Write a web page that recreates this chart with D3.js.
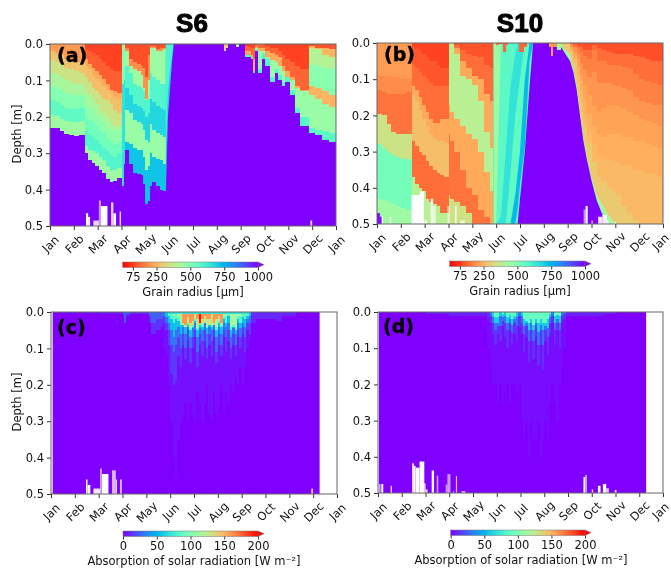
<!DOCTYPE html>
<html>
<head>
<meta charset="utf-8">
<script src="https://cdn.jsdelivr.net/npm/d3@7"></script>
<style>
    html, body { margin: 0; padding: 0; background: #fff; }
    svg { display: block; filter: blur(0.4px); }
    text { font-family: "DejaVu Sans", sans-serif; fill: #111; }
</style>
</head>
<body>
<svg id="canvas" width="671" height="569"></svg>
<script>
const monthLabels = ["Jan", "Feb", "Mar", "Apr", "May", "Jun", "Jul", "Aug", "Sep", "Oct", "Nov", "Dec", "Jan"];
const depthTicks = [0, 0.1, 0.2, 0.3, 0.4, 0.5];
const grainTicks = [75, 250, 500, 750, 1000];
const solarTicks = [0, 50, 100, 150, 200];

// Each block: months along x, then [value, lower edge depth per month], deepest layer first
const s6Grain = [
    { months: [0, 0.2, 0.4, 0.6, 0.8, 1, 1.2, 1.46], layers: [
        [440, [0.23, 0.232, 0.24, 0.248, 0.25, 0.252, 0.25, 0.25]],
        [560, [0.195, 0.198, 0.205, 0.212, 0.215, 0.215, 0.212, 0.21]],
        [490, [0.155, 0.16, 0.168, 0.175, 0.178, 0.178, 0.175, 0.175]],
        [420, [0.115, 0.118, 0.125, 0.135, 0.14, 0.14, 0.14, 0.14]],
        [350, [0.08, 0.082, 0.09, 0.1, 0.105, 0.11, 0.11, 0.11]],
        [280, [0.045, 0.05, 0.055, 0.065, 0.07, 0.075, 0.08, 0.08]],
        [210, [0.02, 0.025, 0.03, 0.04, 0.045, 0.05, 0.05, 0.055]],
    ] },
    { months: [1.46, 1.6, 1.75, 1.9, 2.05, 2.2, 2.35, 2.5, 2.65, 2.8, 3], layers: [
        [440, [0.3, 0.32, 0.328, 0.335, 0.345, 0.355, 0.37, 0.38, 0.375, 0.368, 0.39]],
        [590, [0.28, 0.29, 0.295, 0.3, 0.31, 0.32, 0.335, 0.345, 0.345, 0.34, 0.345]],
        [530, [0.24, 0.25, 0.255, 0.265, 0.275, 0.285, 0.295, 0.305, 0.31, 0.3, 0.31]],
        [470, [0.2, 0.21, 0.215, 0.225, 0.235, 0.245, 0.26, 0.27, 0.275, 0.27, 0.275]],
        [420, [0.165, 0.175, 0.18, 0.195, 0.205, 0.215, 0.23, 0.235, 0.24, 0.235, 0.24]],
        [350, [0.13, 0.14, 0.15, 0.165, 0.18, 0.19, 0.2, 0.215, 0.225, 0.225, 0.23]],
        [270, [0.09, 0.105, 0.12, 0.13, 0.14, 0.15, 0.155, 0.165, 0.18, 0.19, 0.19]],
        [230, [0.06, 0.07, 0.085, 0.095, 0.105, 0.115, 0.125, 0.135, 0.145, 0.15, 0.15]],
        [120, [0.04, 0.055, 0.065, 0.075, 0.085, 0.095, 0.11, 0.125, 0.13, 0.135, 0.13]],
        [85, [0.015, 0.02, 0.025, 0.03, 0.04, 0.05, 0.06, 0.07, 0.075, 0.075, 0.07]],
    ] },
    { months: [3, 3.1, 3.15], layers: [
        [650, [0.39, 0.33, 0.3]],
        [480, [0.11, 0.1, 0]],
    ] },
    { months: [3.15, 3.3, 3.5, 3.65, 3.8, 3.9, 4, 4.1, 4.2, 4.3, 4.45, 4.6, 4.75, 4.86], layers: [
        [720, [0.29, 0.33, 0.355, 0.358, 0.36, 0.385, 0.44, 0.43, 0.39, 0.38, 0.39, 0.4, 0.405, 0.415]],
        [450, [0.27, 0.275, 0.285, 0.29, 0.29, 0.31, 0.345, 0.335, 0.3, 0.31, 0.315, 0.32, 0.33, 0.34]],
        [680, [0.18, 0.19, 0.21, 0.215, 0.22, 0.235, 0.265, 0.27, 0.22, 0.235, 0.245, 0.25, 0.255, 0.26]],
        [590, [0.12, 0.14, 0.165, 0.17, 0.175, 0.185, 0.2, 0.19, 0.15, 0.16, 0.17, 0.175, 0.18, 0.19]],
        [440, [0.06, 0.08, 0.11, 0.115, 0.12, 0.13, 0.155, 0.15, 0.08, 0.09, 0.1, 0.11, 0.11, 0.12]],
        [190, [0.02, 0.06, 0.07, 0.075, 0.085, 0.12, 0.15, 0.1, 0.01, 0.01, 0.02, 0.02, 0.015, 0.01]],
        [100, [0.01, 0.04, 0.05, 0.055, 0.06, 0.065, 0.09, 0.03, 0.005, 0.005, 0.015, 0.012, 0.01, 0.005]],
    ] },
    { months: [4.86, 4.95, 5.05, 5.12, 5.18], layers: [
        [700, [0.41, 0.2, 0.11, 0.05, 0.01]],
        [600, [0.3, 0.13, 0.07, 0.03, 0]],
    ] },
    { months: [7.3, 7.38, 7.45], layers: [[300, [0.02, 0.01, 0]]] },
    { months: [7.8, 7.95], layers: [[420, [0.008, 0]]] },
    { months: [8.18, 8.3, 8.45, 8.53, 8.62, 8.74, 8.88, 9.02, 9.23, 9.44, 9.58, 9.72, 9.86, 10.07, 10.3, 10.49, 10.85], layers: [
        [580, [0.035, 0.035, 0.04, 0.08, 0.02, 0.08, 0.04, 0.06, 0.105, 0.08, 0.1, 0.115, 0.105, 0.14, 0.19, 0.225, 0.24]],
        [450, [0.03, 0.03, 0.035, 0.075, 0.015, 0.07, 0.025, 0.04, 0.09, 0.07, 0.085, 0.105, 0.09, 0.125, 0.175, 0.2, 0.225]],
        [230, [0.03, 0.03, 0.035, 0.075, 0.01, 0.02, 0.02, 0.035, 0.045, 0.05, 0.06, 0.075, 0.09, 0.1, 0.12, 0.13, 0.135]],
        [130, [0.02, 0.02, 0.03, 0.04, 0.005, 0.01, 0.01, 0.02, 0.025, 0.03, 0.035, 0.06, 0.075, 0.09, 0.115, 0.125, 0.13]],
        [85, [0.005, 0.008, 0.01, 0.01, 0, 0, 0, 0.005, 0.01, 0.01, 0.02, 0.03, 0.04, 0.05, 0.06, 0.07, 0.08]],
    ] },
    { months: [10.85, 11.1, 11.4, 11.7, 12], layers: [
        [570, [0.245, 0.25, 0.265, 0.268, 0.272]],
        [450, [0.23, 0.235, 0.24, 0.245, 0.25]],
        [250, [0.14, 0.15, 0.165, 0.172, 0.178]],
        [480, [0.115, 0.12, 0.13, 0.14, 0.145]],
        [400, [0.055, 0.06, 0.065, 0.07, 0.075]],
        [250, [0.01, 0.015, 0.03, 0.035, 0.04]],
        [110, [0.005, 0.01, 0.012, 0.015, 0.02]],
    ] },
];

const s10Grain = [
    { months: [0, 0.2, 0.4, 0.6, 0.8, 1, 1.2, 1.46], layers: [
        [440, [0.5, 0.5, 0.5, 0.5, 0.5, 0.5, 0.5, 0.5]],
        [520, [0.43, 0.435, 0.44, 0.445, 0.45, 0.455, 0.46, 0.465]],
        [350, [0.28, 0.29, 0.3, 0.31, 0.315, 0.32, 0.32, 0.32]],
        [150, [0.195, 0.2, 0.225, 0.245, 0.25, 0.25, 0.25, 0.26]],
        [185, [0.13, 0.135, 0.14, 0.14, 0.14, 0.14, 0.135, 0.13]],
        [210, [0.09, 0.09, 0.09, 0.095, 0.095, 0.1, 0.1, 0.1]],
    ] },
    { months: [1.46, 1.6, 1.75, 1.9, 2.05, 2.2, 2.35, 2.5, 2.65, 2.8, 3], layers: [
        [390, [0.5, 0.5, 0.5, 0.5, 0.5, 0.5, 0.5, 0.5, 0.5, 0.5, 0.5]],
        [140, [0.37, 0.39, 0.4, 0.41, 0.43, 0.44, 0.445, 0.45, 0.47, 0.47, 0.49]],
        [270, [0.27, 0.285, 0.3, 0.31, 0.325, 0.34, 0.35, 0.36, 0.365, 0.37, 0.375]],
        [230, [0.145, 0.16, 0.185, 0.21, 0.23, 0.25, 0.265, 0.27, 0.27, 0.275, 0.275]],
        [140, [0.12, 0.13, 0.15, 0.17, 0.19, 0.21, 0.22, 0.22, 0.21, 0.21, 0.21]],
        [110, [0.06, 0.07, 0.08, 0.09, 0.1, 0.11, 0.12, 0.12, 0.12, 0.12, 0.12]],
        [85, [0.01, 0.015, 0.02, 0.03, 0.04, 0.05, 0.05, 0.06, 0.07, 0.07, 0.07]],
    ] },
    { months: [3, 3.05, 3.25, 3.5, 3.75, 4, 4.25, 4.5, 4.75, 4.95], layers: [
        [350, [0.5, 0.5, 0.5, 0.5, 0.5, 0.5, 0.5, 0.5, 0.5, 0.5]],
        [150, [0.42, 0.43, 0.44, 0.45, 0.47, 0.5, 0.5, 0.5, 0.5, 0.5]],
        [230, [0.25, 0.27, 0.3, 0.35, 0.4, 0.42, 0.46, 0.48, 0.5, 0.5]],
        [390, [0.17, 0.19, 0.21, 0.23, 0.25, 0.265, 0.3, 0.355, 0.41, 0.45]],
        [230, [0, 0, 0.03, 0.09, 0.1, 0.115, 0.16, 0.245, 0.29, 0.32]],
        [140, [0, 0, 0.015, 0.05, 0.07, 0.09, 0.1, 0.14, 0.16, 0.18]],
        [105, [0, 0, 0.005, 0.02, 0.03, 0.035, 0.04, 0.06, 0.07, 0.085]],
    ] },
    { months: [4.9, 5, 5.2, 5.4, 5.6, 5.8, 5.9, 6, 6.2, 6.4, 6.55], layers: [
        [560, [0.5, 0.5, 0.5, 0.5, 0.5, 0.5, 0.5, 0.43, 0.3, 0.12, 0]],
        [740, [0.5, 0.5, 0.5, 0.5, 0.5, 0.5, 0.46, 0.39, 0.29, 0.05, 0]],
        [560, [0.5, 0.5, 0.5, 0.5, 0.5, 0.42, 0.36, 0.3, 0.1, 0, 0]],
        [650, [0.5, 0.5, 0.5, 0.5, 0.36, 0.2, 0.15, 0.1, 0, 0, 0]],
        [570, [0.5, 0.5, 0.48, 0.3, 0.12, 0.03, 0, 0, 0, 0, 0]],
        [440, [0.5, 0.5, 0, 0, 0, 0, 0, 0, 0, 0, 0]],
    ] },
    { months: [5, 5.1, 5.3, 5.4, 5.5, 5.95, 6.15, 6.3], layers: [
        [130, [0.005, 0.003, 0.025, 0.005, 0, 0.025, 0.01, 0]],
    ] },
    { months: [7.23, 7.32, 7.4, 7.54, 7.7], layers: [
        [430, [0.005, 0.02, 0.01, 0.02, 0]],
        [200, [0.01, 0.035, 0.01, 0, 0]],
    ] },
    { months: [7.71, 7.9, 8.1, 8.24, 8.38, 8.52, 8.66, 8.8, 9, 9.22, 9.4, 9.66, 10, 10.5, 11, 11.5, 12], layers: [
        [430, [0.01, 0.03, 0.05, 0.08, 0.13, 0.2, 0.27, 0.32, 0.38, 0.435, 0.465, 0.5, 0.5, 0.5, 0.5, 0.5, 0.5]],
        [290, [0, 0.02, 0.03, 0.07, 0.12, 0.19, 0.26, 0.31, 0.37, 0.42, 0.44, 0.47, 0.5, 0.5, 0.5, 0.5, 0.5]],
    ] },
    { months: [8.1, 8.24, 8.38, 8.52, 8.66, 8.8, 9, 9.22, 9.4, 9.66, 9.85, 10, 10.25, 10.5, 10.75, 11, 11.25, 11.5, 11.75, 12], layers: [
        [260, [0.025, 0.055, 0.105, 0.165, 0.225, 0.275, 0.33, 0.37, 0.385, 0.4, 0.41, 0.42, 0.45, 0.47, 0.49, 0.5, 0.5, 0.5, 0.5, 0.5]],
        [240, [0.02, 0.045, 0.085, 0.135, 0.195, 0.245, 0.28, 0.31, 0.32, 0.32, 0.325, 0.33, 0.34, 0.34, 0.35, 0.35, 0.36, 0.36, 0.37, 0.37]],
        [220, [0.015, 0.035, 0.065, 0.105, 0.155, 0.195, 0.23, 0.25, 0.26, 0.25, 0.25, 0.25, 0.26, 0.26, 0.27, 0.27, 0.28, 0.285, 0.29, 0.29]],
        [200, [0.01, 0.025, 0.045, 0.085, 0.115, 0.145, 0.17, 0.19, 0.18, 0.17, 0.17, 0.175, 0.18, 0.19, 0.2, 0.21, 0.215, 0.22, 0.23, 0.23]],
        [170, [0.005, 0.015, 0.03, 0.055, 0.075, 0.095, 0.08, 0.11, 0.11, 0.11, 0.115, 0.12, 0.125, 0.13, 0.15, 0.16, 0.165, 0.17, 0.17, 0.17]],
        [140, [0.003, 0.008, 0.015, 0.025, 0.035, 0.045, 0.02, 0.05, 0.05, 0.06, 0.06, 0.06, 0.065, 0.07, 0.085, 0.1, 0.105, 0.11, 0.115, 0.115]],
        [100, [0, 0.003, 0.008, 0.012, 0.018, 0.02, 0.005, 0.015, 0.02, 0.025, 0.028, 0.03, 0.03, 0.03, 0.035, 0.04, 0.045, 0.05, 0.05, 0.05]],
    ] },
];
// Blocks whose edges run as straight slants rather than stairs
const s6SlantBlocks = [4];
const s10SlantBlocks = [3, 6];

const s6Solar = [
    { months: [0.1, 1, 2, 3], layers: [[6, [0.004, 0.004, 0.005, 0]]] },
    { months: [3, 3.05, 3.15, 3.3, 3.6, 3.9, 4.1, 4.2, 4.4, 4.6, 4.7], layers: [
        [12, [0.01, 0.03, 0.01, 0.005, 0.005, 0.005, 0.03, 0.06, 0.05, 0.04, 0.02]],
        [25, [0.005, 0.03, 0.005, 0, 0, 0, 0.01, 0.03, 0.02, 0.02, 0.01]],
    ] },
    { months: [4.7, 4.8, 4.9, 5, 5.1, 5.2, 5.3, 5.4, 5.5, 5.6, 5.7, 5.8, 5.9, 6, 6.1, 6.2, 6.3, 6.4, 6.5, 6.6, 6.7, 6.8, 6.9, 7, 7.1, 7.2, 7.3, 7.4, 7.5, 7.6, 7.7, 7.8, 7.9, 8, 8.1, 8.2, 8.3, 8.4], layers: [
        [4, [0.1, 0.12, 0.2, 0.3, 0.4, 0.45, 0.35, 0.3, 0.28, 0.25, 0.3, 0.25, 0.28, 0.3, 0.22, 0.25, 0.3, 0.25, 0.2, 0.28, 0.3, 0.22, 0.28, 0.25, 0.2, 0.28, 0.22, 0.25, 0.2, 0.22, 0.18, 0.2, 0.15, 0.2, 0.15, 0.1, 0.08, 0.05]],
        [14, [0.03, 0.05, 0.09, 0.17, 0.2, 0.19, 0.12, 0.15, 0.09, 0.13, 0.08, 0.14, 0.1, 0.07, 0.15, 0.09, 0.12, 0.08, 0.13, 0.09, 0.12, 0.07, 0.14, 0.09, 0.12, 0.07, 0.11, 0.08, 0.13, 0.09, 0.12, 0.07, 0.1, 0.06, 0.11, 0.05, 0.06, 0.03]],
        [30, [0.01, 0.03, 0.05, 0.09, 0.11, 0.09, 0.07, 0.1, 0.06, 0.1, 0.05, 0.1, 0.07, 0.05, 0.11, 0.06, 0.08, 0.05, 0.1, 0.06, 0.08, 0.05, 0.11, 0.06, 0.09, 0.05, 0.07, 0.05, 0.1, 0.06, 0.09, 0.05, 0.07, 0.04, 0.07, 0.03, 0.03, 0.01]],
        [55, [0, 0.015, 0.03, 0.05, 0.07, 0.05, 0.04, 0.06, 0.04, 0.06, 0.04, 0.07, 0.045, 0.03, 0.07, 0.045, 0.05, 0.03, 0.06, 0.04, 0.05, 0.03, 0.07, 0.04, 0.06, 0.03, 0.04, 0.03, 0.07, 0.045, 0.06, 0.03, 0.045, 0.03, 0.04, 0.02, 0.01, 0]],
        [85, [0, 0, 0.01, 0.02, 0.03, 0.02, 0.025, 0.035, 0.03, 0.04, 0.035, 0.05, 0.04, 0.025, 0.05, 0.035, 0.04, 0.025, 0.045, 0.03, 0.04, 0.025, 0.05, 0.03, 0.04, 0.02, 0.03, 0.01, 0.05, 0.04, 0.05, 0.02, 0.03, 0.015, 0.02, 0.01, 0, 0]],
        [115, [0, 0, 0, 0.005, 0.01, 0.005, 0.015, 0.03, 0.025, 0.035, 0.03, 0.045, 0.035, 0.02, 0.045, 0.03, 0.035, 0.02, 0.04, 0.025, 0.035, 0.02, 0.04, 0.025, 0.035, 0.015, 0.01, 0, 0.04, 0.035, 0.04, 0.01, 0.01, 0, 0, 0, 0, 0]],
    ] },
    { months: [5.4, 5.5, 5.6, 5.7, 5.8, 5.9, 6, 6.1, 6.2, 6.3, 6.4, 6.5, 6.6, 6.7, 6.8, 6.9, 7, 7.1, 7.2], layers: [
        [130, [0.01, 0.035, 0.04, 0.03, 0.04, 0.035, 0.015, 0.035, 0.03, 0.035, 0.03, 0.03, 0.035, 0.03, 0.035, 0.025, 0.02, 0.035, 0]],
        [160, [0, 0.03, 0.035, 0.015, 0.03, 0.025, 0, 0.02, 0.03, 0.02, 0.01, 0.02, 0.02, 0, 0.03, 0.02, 0.01, 0.03, 0]],
        [195, [0, 0, 0, 0, 0, 0, 0, 0, 0.03, 0, 0, 0, 0, 0, 0, 0, 0, 0, 0]],
    ] },
    { months: [4.9, 8.3], layers: [[70, [0.006, 0]]] },
    { months: [8.4, 8.6, 8.8, 9, 9.4, 9.7, 10, 10.3], layers: [
        [10, [0.03, 0.02, 0.02, 0.02, 0.025, 0.01, 0.01, 0]],
    ] },
];

const s10Solar = [
    { months: [2, 3, 3.5, 4, 4.3, 4.6], layers: [[8, [0.005, 0.01, 0.01, 0.01, 0.01, 0.01]]] },
    { months: [4.6, 4.7, 4.8, 4.9, 5, 5.1, 5.2, 5.3, 5.4, 5.5, 5.6, 5.7, 5.8, 5.9, 6, 6.1, 6.2, 6.3, 6.4, 6.5, 6.6, 6.7, 6.8, 6.9, 7, 7.1, 7.2, 7.3, 7.4, 7.5, 7.6, 7.7, 7.8, 7.9], layers: [
        [3, [0.1, 0.15, 0.2, 0.2, 0.25, 0.2, 0.25, 0.22, 0.2, 0.25, 0.2, 0.2, 0.22, 0.2, 0.3, 0.35, 0.3, 0.4, 0.3, 0.35, 0.35, 0.3, 0.4, 0.35, 0.3, 0.35, 0.25, 0.2, 0.25, 0.3, 0.2, 0.15, 0.1, 0.05]],
        [12, [0.02, 0.03, 0.06, 0.09, 0.06, 0.08, 0.04, 0.07, 0.1, 0.05, 0.09, 0.06, 0.08, 0.04, 0.06, 0.11, 0.07, 0.14, 0.08, 0.13, 0.07, 0.15, 0.09, 0.16, 0.08, 0.12, 0.06, 0.03, 0.09, 0.05, 0.1, 0.03, 0.02, 0.01]],
        [30, [0, 0.01, 0.03, 0.05, 0.04, 0.04, 0.025, 0.03, 0.05, 0.03, 0.055, 0.03, 0.04, 0.01, 0.03, 0.06, 0.04, 0.08, 0.05, 0.08, 0.04, 0.09, 0.05, 0.09, 0.05, 0.07, 0.03, 0.01, 0.05, 0.03, 0.05, 0.01, 0.005, 0]],
        [60, [0, 0, 0.015, 0.03, 0.03, 0.01, 0.015, 0.01, 0.03, 0.02, 0.035, 0.02, 0.015, 0, 0.01, 0.04, 0.03, 0.05, 0.03, 0.05, 0.03, 0.055, 0.035, 0.05, 0.04, 0.045, 0.015, 0, 0.03, 0.02, 0.03, 0, 0, 0]],
        [90, [0, 0, 0, 0.015, 0.015, 0, 0.005, 0, 0.015, 0.008, 0.02, 0.01, 0, 0, 0, 0.02, 0.025, 0.03, 0.02, 0.035, 0.02, 0.03, 0.02, 0.03, 0.03, 0.02, 0.005, 0, 0.01, 0.008, 0.012, 0, 0, 0]],
    ] },
    { months: [7.9, 8.2, 8.6, 9, 9.5, 10], layers: [[8, [0.01, 0.01, 0.012, 0.01, 0.005, 0]]] },
];

// Missing data at the bottom of each panel: start month, end month, top depth, whiteness
const s6Gaps = [[1.51, 1.6, 0.465, 1], [1.6, 1.68, 0.475, 1], [1.82, 2.05, 0.485, 0.85], [2.05, 2.14, 0.43, 0.6], [2.14, 2.41, 0.445, 1], [2.56, 2.66, 0.435, 0.8], [2.66, 2.77, 0.465, 1], [2.92, 2.98, 0.46, 0.8], [10.92, 11, 0.485, 0.8]];
const s10Gaps = [[0.2, 0.25, 0.48, 1], [0.53, 0.6, 0.48, 0.7], [1.45, 1.8, 0.42, 1], [1.8, 1.97, 0.41, 1], [2, 2.1, 0.49, 1], [2.25, 2.36, 0.43, 0.8], [2.36, 2.47, 0.45, 0.6], [2.95, 3.06, 0.45, 0.5], [3.27, 3.34, 0.45, 0.8], [3.5, 3.68, 0.49, 0.7], [8.67, 8.75, 0.46, 0.6], [8.75, 8.84, 0.45, 1], [9, 9.05, 0.49, 0.8], [9.28, 9.45, 0.48, 0.9], [9.45, 9.65, 0.475, 0.9], [9.65, 9.72, 0.49, 0.7], [9.95, 10.03, 0.495, 1]];
const s6SolarGaps = [[1.47, 1.53, 0.46, 1], [1.53, 1.65, 0.475, 1], [1.78, 2.06, 0.485, 0.9], [2.06, 2.13, 0.43, 0.7], [2.14, 2.41, 0.445, 1], [2.56, 2.72, 0.435, 0.7], [2.72, 2.76, 0.46, 1], [2.9, 2.97, 0.46, 0.8], [10.92, 10.99, 0.485, 0.8]];
const s10SolarGaps = [[0.04, 0.11, 0.475, 0.6], [0.14, 0.22, 0.475, 1], [0.53, 0.59, 0.48, 0.8], [1.44, 1.51, 0.418, 1], [1.51, 1.58, 0.425, 1], [1.58, 1.75, 0.43, 1], [1.75, 1.95, 0.413, 1], [1.95, 2, 0.473, 1], [2, 2.09, 0.49, 0.8], [2.26, 2.36, 0.438, 1], [2.47, 2.54, 0.452, 0.6], [2.85, 2.92, 0.477, 0.6], [2.92, 3.05, 0.448, 0.6], [3.15, 3.2, 0.495, 0.6], [3.28, 3.33, 0.453, 0.7], [3.52, 3.68, 0.495, 0.8], [8.65, 8.72, 0.456, 1], [8.72, 8.8, 0.45, 0.6], [9, 9.06, 0.49, 0.8], [9.26, 9.37, 0.48, 1], [9.47, 9.61, 0.475, 1], [9.61, 9.72, 0.487, 0.8], [9.97, 10.04, 0.492, 1]];
// Coarse-snow corner at the bottom left of S10: start month, end month, top depth
const s10Patches = [[0, 0.12, 0.47], [0.12, 0.2, 0.48]];

const svg = d3.select("#canvas");

// matplotlib "rainbow" colormap
function rainbow(t) {
    const r = Math.abs(2 * t - 0.5);
    const g = Math.sin(Math.PI * t);
    const b = Math.cos((Math.PI * t) / 2);
    return d3.rgb(Math.min(r, 1) * 255, g * 255, b * 255).formatHex();
}
const grainColor = (v) => rainbow(1 - Math.min(v, 1000) / 1000);
const solarColor = (v) => rainbow(Math.min(v, 200) / 200);

function drawPanel(p) {
    const x = d3.scaleLinear().domain([0, 12]).range([p.left, p.right]);
    const y = d3.scaleLinear().domain([0, 0.5]).range([p.top, p.bottom]);
    const g = svg.append("g");

    g.append("rect")
        .attr("x", x(p.dataRange[0]))
        .attr("y", y(0))
        .attr("width", x(p.dataRange[1]) - x(p.dataRange[0]))
        .attr("height", y(0.5) - y(0))
        .attr("fill", p.color(p.baseValue));

    const area = d3
        .area()
        .x((d) => x(d[0]))
        .y0(y(0))
        .y1((d) => y(d[1]));

    p.blocks.forEach((block, b) => {
        const slant = (p.slantBlocks || []).includes(b);
        area.curve(slant ? d3.curveLinear : d3.curveStepAfter);
        block.layers.forEach(([value, depths]) => {
            g.append("path")
                .attr("d", area(block.months.map((m, i) => [m, depths[i]])))
                .attr("fill", p.color(value))
                .attr("shape-rendering", slant ? "auto" : "crispEdges");
        });
    });

    (p.patches || []).forEach((d) => {
        g.append("rect")
            .attr("x", x(d[0]))
            .attr("y", y(d[2]))
            .attr("width", x(d[1]) - x(d[0]))
            .attr("height", y(0.5) - y(d[2]))
            .attr("fill", p.color(p.baseValue));
    });

    g.selectAll(".gap")
        .data(p.gaps)
        .enter()
        .append("rect")
        .attr("class", "gap")
        .attr("x", (d) => x(d[0]))
        .attr("y", (d) => y(d[2]))
        .attr("width", (d) => x(d[1]) - x(d[0]))
        .attr("height", (d) => y(0.5) - y(d[2]))
        .attr("fill", "#fff")
        .attr("fill-opacity", (d) => d[3]);

    // axes
    const xAxis = d3
        .axisBottom(x)
        .tickValues(d3.range(monthLabels.length))
        .tickFormat((i) => monthLabels[i])
        .tickSize(4);
    const gx = g.append("g").attr("transform", `translate(0,${p.bottom})`).call(xAxis);
    gx.selectAll("text")
        .attr("y", 0)
        .attr("dy", "0.35em")
        .attr("text-anchor", "middle")
        // last label sits against the window edge on the right-hand panels
        .attr("transform", (i) => `translate(${i === 12 && p.right > 600 ? -3 : 0},18) rotate(-45)`);

    const yAxis = d3.axisLeft(y).tickValues(depthTicks).tickFormat(d3.format(".1f")).tickSize(4);
    const gy = g.append("g").attr("transform", `translate(${p.left},0)`).call(yAxis);

    [gx, gy].forEach((a) => {
        a.selectAll("text").style("font-size", "11.5px").style("font-family", '"DejaVu Sans"');
        a.selectAll("line").attr("stroke", "#333");
        a.select(".domain").remove();
    });

    g.append("rect")
        .attr("x", p.left)
        .attr("y", p.top)
        .attr("width", p.right - p.left)
        .attr("height", p.bottom - p.top)
        .attr("fill", "none")
        .attr("stroke", "#666");

    g.append("text")
        .attr("x", p.left + p.tagDx)
        .attr("y", p.top + p.tagDy)
        .style("font-size", "19px")
        .style("font-weight", "bold")
        .style("fill", "#000")
        .attr("stroke", "#000")
        .attr("stroke-width", 0.4)
        .text(p.tag);

    if (p.yTitle) {
        g.append("text")
            .attr("transform", `translate(17,${(p.top + p.bottom) / 2 - 1}) rotate(-90)`)
            .attr("text-anchor", "middle")
            .attr("dy", "0.35em")
            .style("font-size", "11.5px")
            .text("Depth [m]");
    }
    if (p.title) {
        g.append("text")
            .attr("x", p.titleX)
            .attr("y", 32)
            .attr("text-anchor", "middle")
            .style("font-family", '"Liberation Sans"')
            .style("font-size", "26px")
            .style("font-weight", "bold")
            .style("fill", "#000")
            .attr("stroke", "#000")
            .attr("stroke-width", 1)
            .text(p.title);
    }
    drawColorbar(p);
}

function drawColorbar(p) {
    const c = p.bar;
    const s = d3.scaleLinear().domain(c.domain).range([c.left, c.right]);
    const id = `bar-${p.tag.charAt(1)}`;
    const grad = svg.append("defs").append("linearGradient").attr("id", id);
    d3.range(0, 1.001, 0.05).forEach((t) => {
        const v = c.domain[0] + t * (c.domain[1] - c.domain[0]);
        grad.append("stop").attr("offset", t).attr("stop-color", p.color(v));
    });
    const g = svg.append("g");
    g.append("path")
        .attr("d", `M${c.right},${c.top}L${c.right + 6},${c.top + 2.7}L${c.right},${c.top + 5.5}Z`)
        .attr("fill", p.color(c.domain[1]))
        .attr("stroke", "#777")
        .attr("stroke-width", 0.5);
    g.append("rect")
        .attr("x", c.left)
        .attr("y", c.top)
        .attr("width", c.right - c.left)
        .attr("height", 5.5)
        .attr("fill", `url(#${id})`)
        .attr("stroke", "#777")
        .attr("stroke-width", 0.5);
    const axis = d3.axisBottom(s).tickValues(c.ticks).tickFormat(d3.format("d")).tickSize(3);
    const ga = g.append("g").attr("transform", `translate(0,${c.top + 5.5})`).call(axis);
    ga.select(".domain").remove();
    ga.selectAll("text").attr("y", 5).style("font-size", "11.5px").style("font-family", '"DejaVu Sans"');
    ga.selectAll("line").attr("stroke", "#333");
    g.append("text")
        .attr("x", c.labelX)
        .attr("y", c.top + 34)
        .attr("text-anchor", "middle")
        .style("font-size", "11.5px")
        .text(c.label);
}

const grainBar = { domain: [0, 1000], ticks: grainTicks, label: "Grain radius [µm]" };
const solarBar = { domain: [0, 200], ticks: solarTicks };

drawPanel({
    left: 50, right: 336, top: 44, bottom: 226, tag: "(a)", tagDx: 7, tagDy: 18, yTitle: true, title: "S6", titleX: 192,
    dataRange: [0, 12], baseValue: 1000, color: grainColor, blocks: s6Grain, slantBlocks: s6SlantBlocks, gaps: s6Gaps,
    bar: { ...grainBar, left: 122.7, right: 258, top: 262, labelX: 193 },
});
drawPanel({
    left: 377, right: 663, top: 43, bottom: 224, tag: "(b)", tagDx: 7, tagDy: 18, title: "S10", titleX: 520,
    dataRange: [0, 12], baseValue: 1000, color: grainColor, blocks: s10Grain, slantBlocks: s10SlantBlocks, gaps: s10Gaps, patches: s10Patches,
    bar: { ...grainBar, left: 449.7, right: 585, top: 261, labelX: 520 },
});
drawPanel({
    left: 51, right: 337, top: 312, bottom: 494, tag: "(c)", tagDx: 6, tagDy: 22, yTitle: true,
    dataRange: [0.07, 11.27], baseValue: 0, color: solarColor, blocks: s6Solar, gaps: s6SolarGaps,
    bar: { ...solarBar, left: 123, right: 258, top: 531, labelX: 194, label: "Absorption of solar radiation [W m⁻²]" },
});
drawPanel({
    left: 378, right: 663, top: 312, bottom: 493, tag: "(d)", tagDx: 5, tagDy: 21,
    dataRange: [0.04, 11.29], baseValue: 0, color: solarColor, blocks: s10Solar, gaps: s10SolarGaps,
    bar: { ...solarBar, left: 450.7, right: 585, top: 530, labelX: 521, label: "Absorption of solar radiation [W m⁻²]" },
});
</script>
</body>
</html>
